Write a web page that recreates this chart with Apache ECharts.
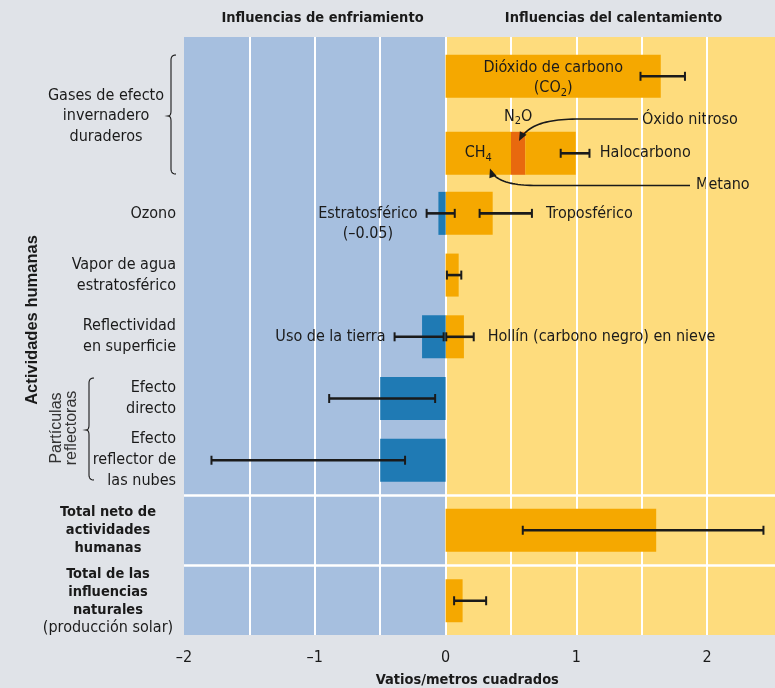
<!DOCTYPE html>
<html><head><meta charset="utf-8">
<script src="https://cdn.jsdelivr.net/npm/echarts@6/dist/echarts.min.js"></script>
<style>html,body{margin:0;padding:0;background:#e0e3e8}#c{width:775px;height:688px}</style>
</head><body><div id="c"></div>
<script>
// ---------- DATA ----------
const xTickLabels = [-2, -1, 0, 1, 2];
const X_MIN = -2, X_MAX = 2.5;

// Long-lived greenhouse gases (two rows)
const gasRows = ['CO2', 'CH4 / N2O / Halocarbono'];
const co2Values  = [1.645, '-'];
const ch4Values  = ['-', 0.50];
const n2oValues  = ['-', 0.11];
const haloValues = ['-', 0.385];
const gasErrRow  = [0, 1];
const gasErrLow  = [1.49, 0.88];
const gasErrHigh = [1.83, 1.10];

// Other human activities
const otherRows = ['Ozono', 'Vapor de agua\nestratosférico', 'Reflectividad\nen superficie', 'Efecto\ndirecto', 'Efecto\nreflector de\nlas nubes'];
const warmValues = [0.36, 0.10, 0.14, '-', '-'];
const coolValues = [-0.055, '-', -0.18, -0.50, -0.50];
const otherErrRow   = [0, 0, 1, 2, 2, 3, 4];
const otherErrLow   = [-0.145, 0.26, 0.01, -0.39, 0.005, -0.89, -1.79];
const otherErrHigh  = [0.07, 0.66, 0.12, -0.015, 0.215, -0.08, -0.31];
const otherErrLeft  = ['Estratosférico\n(–0.05)', '', '', 'Uso de la tierra', '', '', ''];
const otherErrRight = ['', 'Troposférico', '', '', 'Hollín (carbono negro) en nieve', '', ''];

// Totals
const totalRows = ['Total neto de\nactividades\nhumanas', 'Total de las\ninfluencias\nnaturales\n(producción solar)'];
const totalValues = [1.61, 0.13];
const totalErrRow = [0, 1];
const totalErrLow = [0.59, 0.065];
const totalErrHigh = [2.43, 0.31];

// ---------- STYLE ----------
const COND = '"Liberation Sans Narrow", "DejaVu Sans Condensed", "Arial Narrow", sans-serif';
const SANS = '"Liberation Sans", Arial, sans-serif';
const INK = '#1a1a1a';
const ORANGE = '#f5a800', N2O_C = '#e8690e', DBLUE = '#1f7ab4';
const BG_BLUE = '#a6bfdf', BG_YEL = '#fedc7d';
const FS = 16, FSB = 14.5;
const PL = 184, PR = 2.4;           // plot left / right gap (value axis extent)
const ZERO_X = 445.6;               // pixel where the blue/yellow halves meet

const chart = echarts.init(document.getElementById('c'));
const mctx = document.createElement('canvas').getContext('2d');
mctx.font = FS + 'px ' + COND;
function textW(t) { return Math.max(...t.split('\n').map(l => mctx.measureText(l).width)); }

function errSeries(idx, rows, lows, highs, lefts, rights) {
  return {
    type: 'custom', xAxisIndex: idx, yAxisIndex: idx, z: 5, silent: true,
    data: rows.map((r, i) => [lows[i], highs[i], r]),
    encode: { x: [0, 1], y: 2 },
    renderItem(params, api) {
      const i = params.dataIndex;
      const lo = api.coord([api.value(0), api.value(2)]);
      const hi = api.coord([api.value(1), api.value(2)]);
      const cap = 4.5;
      const ch = [
        { type: 'line', shape: { x1: lo[0], y1: lo[1], x2: hi[0], y2: hi[1] }, style: { stroke: INK, lineWidth: 2.6 } },
        { type: 'line', shape: { x1: lo[0], y1: lo[1] - cap, x2: lo[0], y2: lo[1] + cap }, style: { stroke: INK, lineWidth: 2 } },
        { type: 'line', shape: { x1: hi[0], y1: hi[1] - cap, x2: hi[0], y2: hi[1] + cap }, style: { stroke: INK, lineWidth: 2 } }
      ];
      const ts = (t, x) => ({ text: t, x: x, y: lo[1] - 10, align: 'center', verticalAlign: 'top',
        fontSize: FS, fontFamily: COND, fill: INK, lineHeight: 20 });
      if (lefts && lefts[i]) {
        const w = textW(lefts[i]);
        ch.push({ type: 'text', style: ts(lefts[i], lo[0] - 9 - w / 2) });
      }
      if (rights && rights[i]) {
        const w = textW(rights[i]);
        ch.push({ type: 'text', style: ts(rights[i], hi[0] + 14 + w / 2) });
      }
      return { type: 'group', children: ch };
    }
  };
}

const hiddenX = (gi, max) => ({ type: 'value', gridIndex: gi, min: X_MIN, max: max === undefined ? X_MAX : max, show: false, splitLine: { show: false } });
const txt = { fontFamily: COND, fontSize: FS, color: INK };
const sub = { fontFamily: COND, fontSize: 11, color: INK, lineHeight: 12, verticalAlign: 'bottom' };
const G = { outerBoundsMode: 'none', containLabel: false };

const option = {
  backgroundColor: '#e0e3e8',
  animation: false,
  grid: [
    { ...G, left: PL, width: ZERO_X - PL, top: 37, bottom: 53, show: true, backgroundColor: BG_BLUE, borderWidth: 0, z: 0 },
    { ...G, left: ZERO_X, right: 0, top: 37, bottom: 53, show: true, backgroundColor: BG_YEL, borderWidth: 0, z: 0 },
    { ...G, left: PL, right: PR, top: 37, bottom: 53 },
    { ...G, left: PL, right: PR, top: 37.8, height: 154 },
    { ...G, left: PL, right: PR, top: 182.5, height: 308.6 },
    { ...G, left: PL, right: PR, top: 495, height: 141 },
    { ...G, left: PL, right: 0, top: 495, height: 141 }
  ],
  xAxis: [
    { type: 'value', gridIndex: 0, min: X_MIN, max: 0, show: false, splitLine: { show: false } },
    { type: 'value', gridIndex: 1, min: 0, max: X_MAX, show: false, splitLine: { show: false } },
    { type: 'value', gridIndex: 2, min: X_MIN, max: X_MAX, interval: 0.5, z: 1,
      axisLine: { show: false }, axisTick: { show: false },
      splitLine: { show: true, showMinLine: false, showMaxLine: false, lineStyle: { color: '#ffffff', width: 2 } },
      axisLabel: { margin: 15, fontFamily: COND, fontSize: FS, color: INK,
        formatter: v => xTickLabels.includes(v) ? (v < 0 ? '–' + (-v) : String(v)) : '' },
      name: 'Vatios/metros cuadrados', nameLocation: 'middle', nameGap: 38,
      nameTextStyle: { fontFamily: COND, fontSize: FSB, fontWeight: 'bold', color: INK, padding: [0, 22, 0, 0] } },
    hiddenX(3), hiddenX(4), hiddenX(5), hiddenX(6)
  ],
  yAxis: [
    { type: 'value', gridIndex: 0, show: false },
    { type: 'value', gridIndex: 1, show: false },
    { type: 'value', gridIndex: 2, show: false },
    { type: 'category', gridIndex: 3, data: gasRows, inverse: true, show: false },
    { type: 'category', gridIndex: 4, data: otherRows, inverse: true,
      axisLine: { show: false }, axisTick: { show: false },
      axisLabel: { margin: 8, align: 'right', fontFamily: COND, fontSize: FS, color: INK, lineHeight: 21 } },
    { type: 'category', gridIndex: 5, data: totalRows, inverse: true,
      axisLine: { show: false }, axisTick: { show: false }, splitLine: { show: false },
      axisLabel: { margin: 76, align: 'center', lineHeight: 18,
        formatter: v => v.split('\n').map(l => l.startsWith('(') ? '{n|' + l + '}' : '{b|' + l + '}').join('\n'),
        rich: { b: { fontFamily: COND, fontSize: FSB, fontWeight: 'bold', color: INK, lineHeight: 18 },
                n: { fontFamily: COND, fontSize: FS, color: INK, lineHeight: 18 } } } },
    { type: 'category', gridIndex: 6, data: totalRows, inverse: true, z: 1,
      axisLine: { show: false }, axisTick: { show: false }, axisLabel: { show: false },
      splitLine: { show: true, showMinLine: true, showMaxLine: false, lineStyle: { color: '#ffffff', width: 2.5 } } }
  ],
  series: [
    { type: 'bar', name: 'CO2', xAxisIndex: 3, yAxisIndex: 3, stack: 'g', barWidth: 43, data: co2Values,
      itemStyle: { color: ORANGE },
      label: { show: true, position: 'inside', formatter: '{a|Dióxido de carbono}\n{a|(CO}{s|2}{a|)}',
        offset: [0, 2], rich: { a: { ...txt, lineHeight: 20 }, s: sub } } },
    { type: 'bar', name: 'CH4', xAxisIndex: 3, yAxisIndex: 3, stack: 'g', barWidth: 43, data: ch4Values,
      itemStyle: { color: ORANGE },
      label: { show: true, position: 'inside', formatter: '{a|CH}{s|4}', rich: { a: { ...txt, lineHeight: 20 }, s: sub } } },
    { type: 'bar', name: 'N2O', xAxisIndex: 3, yAxisIndex: 3, stack: 'g', barWidth: 43, data: n2oValues,
      itemStyle: { color: N2O_C },
      label: { show: true, position: 'top', distance: 5, formatter: '{a|N}{s|2}{a|O}', rich: { a: { ...txt, lineHeight: 20 }, s: sub } } },
    { type: 'bar', name: 'Halocarbono', xAxisIndex: 3, yAxisIndex: 3, stack: 'g', barWidth: 43, data: haloValues,
      itemStyle: { color: ORANGE },
      label: { show: true, position: 'right', distance: 24, formatter: 'Halocarbono', ...txt } },
    errSeries(3, gasErrRow, gasErrLow, gasErrHigh),

    { type: 'bar', name: 'Calentamiento', xAxisIndex: 4, yAxisIndex: 4, stack: 'o', barWidth: 43, data: warmValues,
      itemStyle: { color: ORANGE } },
    { type: 'bar', name: 'Enfriamiento', xAxisIndex: 4, yAxisIndex: 4, stack: 'o', barWidth: 43, data: coolValues,
      itemStyle: { color: DBLUE } },
    errSeries(4, otherErrRow, otherErrLow, otherErrHigh, otherErrLeft, otherErrRight),

    { type: 'bar', name: 'Totales', xAxisIndex: 5, yAxisIndex: 5, barWidth: 43, data: totalValues,
      itemStyle: { color: ORANGE } },
    errSeries(5, totalErrRow, totalErrLow, totalErrHigh)
  ]
};

// ---------- decorations: arrows & braces (sampled into polylines) ----------
function quad(p0, p1, p2, n) { const o = []; for (let k = 1; k <= n; k++) { const t = k / n, a = 1 - t;
  o.push([a * a * p0[0] + 2 * a * t * p1[0] + t * t * p2[0], a * a * p0[1] + 2 * a * t * p1[1] + t * t * p2[1]]); } return o; }
function cubic(p0, p1, p2, p3, n) { const o = []; for (let k = 1; k <= n; k++) { const t = k / n, a = 1 - t;
  o.push([a*a*a*p0[0] + 3*a*a*t*p1[0] + 3*a*t*t*p2[0] + t*t*t*p3[0], a*a*a*p0[1] + 3*a*a*t*p1[1] + 3*a*t*t*p2[1] + t*t*t*p3[1]]); } return o; }
function arrowEls(start, corner, c1, c2, end) {
  const pts = [start, corner, ...cubic(corner, c1, c2, end, 24)];
  const dx = end[0] - c2[0], dy = end[1] - c2[1], L = Math.hypot(dx, dy), ux = dx / L, uy = dy / L;
  const bx = end[0] - ux * 9, by = end[1] - uy * 9, px = -uy * 3.8, py = ux * 3.8;
  return [
    { type: 'polyline', z: 10, shape: { points: pts.slice(0, -2) }, style: { stroke: INK, lineWidth: 1.6, fill: null } },
    { type: 'polygon', z: 10, shape: { points: [end, [bx + px, by + py], [bx - px, by - py]] }, style: { fill: INK } }
  ];
}
function brace(x, y1, y2, ym) {
  const r = 5, tip = x - 3;
  const pts = [[x + r, y1], ...quad([x + r, y1], [x, y1], [x, y1 + r], 8), [x, ym - r],
    ...quad([x, ym - r], [x, ym], [tip, ym], 6), ...quad([tip, ym], [x, ym], [x, ym + r], 6),
    [x, y2 - r], ...quad([x, y2 - r], [x, y2], [x + r, y2], 8)];
  return { type: 'polyline', z: 10, shape: { points: pts }, style: { stroke: INK, lineWidth: 1.1, fill: null } };
}
const tstyle = (t, extra) => Object.assign({ text: t, fontFamily: COND, fontSize: FS, fill: INK }, extra);

option.graphic = [
  { type: 'text', x: 322.5, y: 18, style: tstyle('Influencias de enfriamiento', { fontSize: FSB, fontWeight: 'bold', align: 'center', verticalAlign: 'middle' }) },
  { type: 'text', x: 613.5, y: 18, style: tstyle('Influencias del calentamiento', { fontSize: FSB, fontWeight: 'bold', align: 'center', verticalAlign: 'middle' }) },
  { type: 'text', x: 32, y: 320, rotation: Math.PI / 2, style: { text: 'Actividades humanas', fontFamily: SANS, fontSize: 16.5, fontWeight: 'bold', fill: INK, align: 'center', verticalAlign: 'middle' } },
  { type: 'text', x: 64, y: 428, rotation: Math.PI / 2, style: { text: 'Partículas\nreflectoras', fontFamily: SANS, fontSize: 16, fill: '#333', align: 'center', verticalAlign: 'middle', lineHeight: 15 } },
  { type: 'text', x: 106, y: 116, style: tstyle('Gases de efecto\ninvernadero\nduraderos', { align: 'center', verticalAlign: 'middle', lineHeight: 20.5 }) },
  { type: 'text', x: 642, y: 120, style: tstyle('Óxido nitroso', { align: 'left', verticalAlign: 'middle' }) },
  { type: 'text', x: 696, y: 185, style: tstyle('Metano', { align: 'left', verticalAlign: 'middle' }) },
  ...arrowEls([638, 119], [580, 119], [548, 119], [528, 124], [519, 141]),
  ...arrowEls([690, 185.5], [537, 185.5], [508, 185.5], [494, 180], [490, 168.5]),
  brace(171, 55, 174, 116),
  brace(89, 378, 480, 430)
];

chart.setOption(option);
</script></body></html>
